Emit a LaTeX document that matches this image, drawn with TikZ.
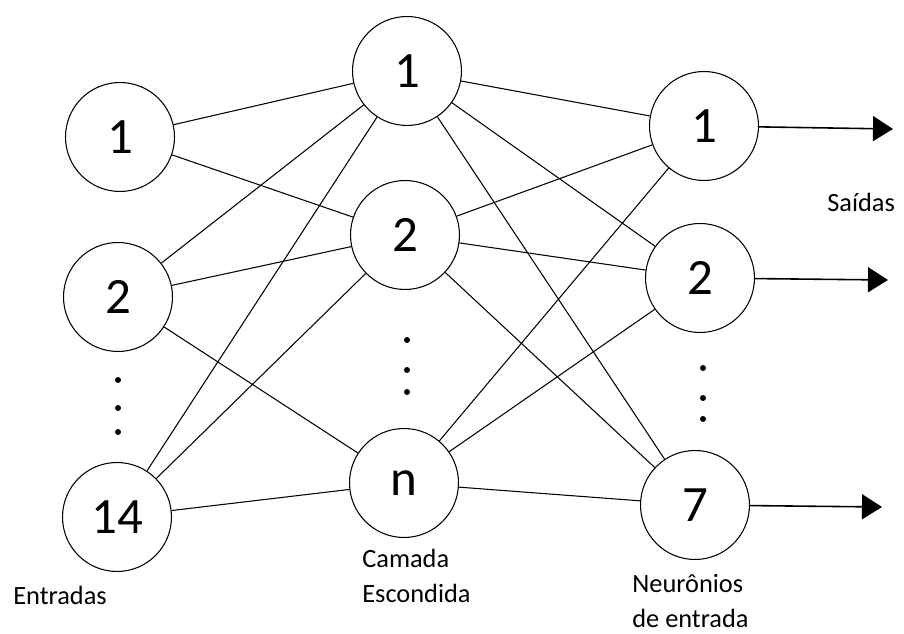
\documentclass[tikz,border=0pt]{standalone}
\usepackage{fontspec}
\setmainfont{Carlito}
\usetikzlibrary{arrows.meta}
\begin{document}
\begin{tikzpicture}[x=0.02cm, y=-0.02cm,
    neuron/.style={draw, circle, line width=0.6pt, minimum size=2.18cm,
                   inner sep=0pt, font=\fontsize{29}{34}\selectfont},
    link/.style={line width=0.6pt},
    outarrow/.style={-{Triangle[length=0.4cm, width=0.5cm]}, line width=0.9pt},
    lbl/.style={font=\fontsize{15}{20.4}\selectfont, inner sep=0pt,
                align=left, anchor=base west}
]
\useasboundingbox (0,0) rectangle (904,634);

% entradas
\node[neuron] (I1)  at (120,137) {1};
\node[neuron] (I2)  at (118,297) {2};
\node[neuron] (I14) at (117,517) {14};

% camada escondida
\node[neuron] (H1) at (407,71)  {1};
\node[neuron] (H2) at (405,235) {2};
\node[neuron] (Hn) at (404,483) {n};

% saidas
\node[neuron] (O1) at (704,126) {1};
\node[neuron] (O2) at (700,278) {2};
\node[neuron] (O7) at (695,505) {7};

\coordinate (S1) at (893,129);
\coordinate (S2) at (888,280);
\coordinate (S7) at (882,507);

% pontos
\fill (118,380) circle[radius=0.06cm] (118,408) circle[radius=0.06cm] (118,432) circle[radius=0.06cm];
\fill (407,340) circle[radius=0.06cm] (407,370) circle[radius=0.06cm] (407,392) circle[radius=0.06cm];
\fill (703,368) circle[radius=0.06cm] (703,398) circle[radius=0.06cm] (703,419) circle[radius=0.06cm];

\draw[link] (I1) -- (H1);
\draw[link] (I1) -- (H2);
\draw[link] (I2) -- (H1);
\draw[link] (I2) -- (H2);
\draw[link] (I2) -- (Hn);
\draw[link] (I14) -- (H1);
\draw[link] (I14) -- (H2);
\draw[link] (I14) -- (Hn);

\draw[link] (H1) -- (O1);
\draw[link] (H1) -- (O2);
\draw[link] (H1) -- (O7);
\draw[link] (H2) -- (O1);
\draw[link] (H2) -- (O2);
\draw[link] (H2) -- (O7);
\draw[link] (Hn) -- (O1);
\draw[link] (Hn) -- (O2);
\draw[link] (Hn) -- (O7);

\draw[outarrow] (O1) -- (S1);
\draw[outarrow] (O2) -- (S2);
\draw[outarrow] (O7) -- (S7);

\node[lbl] (saidas)    at (827,212) {Saídas};
\node[lbl] (entradas)  at (13,605)  {Entradas};
\node[lbl] (camada)    at (362,603) {Camada\\Escondida};
\node[lbl] (neuronios) at (632,628) {Neurônios\\de entrada};

\end{tikzpicture}
\end{document}
